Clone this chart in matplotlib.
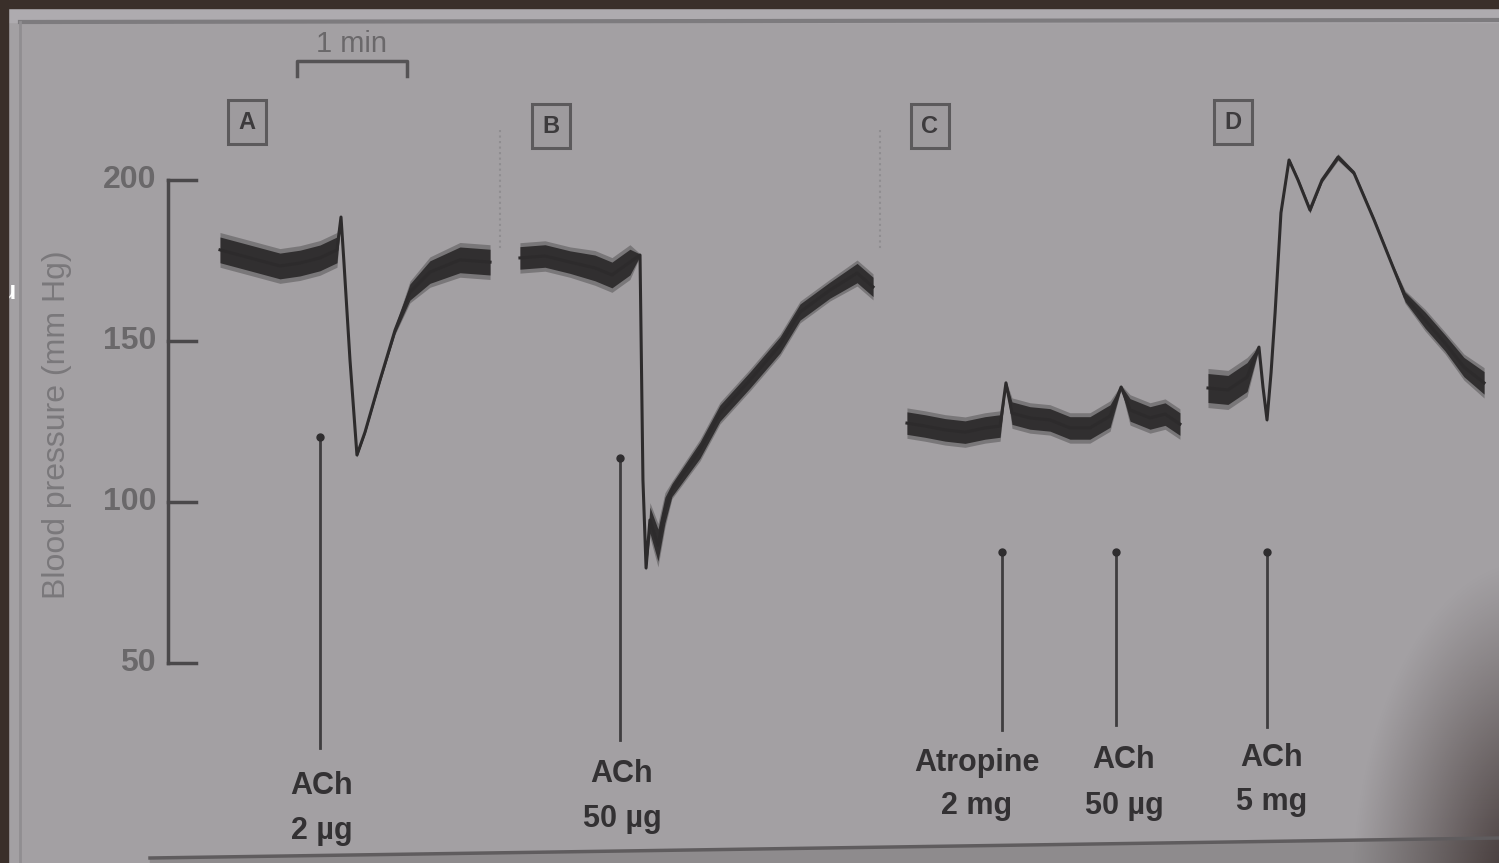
import matplotlib
matplotlib.use("Agg")
import matplotlib.pyplot as plt
import numpy as np
from matplotlib.patches import Rectangle

plt.rcParams["font.family"] = ["Liberation Sans", "DejaVu Sans"]

# --- Data: blood pressure traces (time in s, pressure in mmHg) ---
A_time = [120.0, 136.4, 152.7, 163.6, 174.5, 183.8, 186.0, 187.6, 190.9, 194.7,
          199.1, 207.3, 215.5, 223.6, 234.5, 250.9, 267.3]
A_bp = [178.3, 175.8, 173.3, 174.2, 175.8, 178.3, 188.5, 174.5, 144.1, 114.6,
        121.7, 137.9, 153.4, 165.2, 171.4, 175.2, 174.5]
A_noise = [4, 4, 4, 4, 4, 4, 0.3, 0.3, 0.4, 0.5, 0.5, 0.6, 1, 2.5, 3.5, 4, 4]

B_time = [283.6, 297.3, 310.9, 324.5, 333.8, 343.6, 349.1, 350.7, 352.4, 354.5,
          358.9, 362.7, 366.5, 381.8, 392.7, 409.1, 425.5, 436.4, 452.7, 467.5, 476.2]
B_bp = [175.8, 176.4, 174.5, 172.7, 170.5, 174.5, 176.7, 106.8, 79.5, 94.4,
        86.6, 97.5, 103.7, 116.1, 127.6, 137.9, 148.8, 159.0, 165.8, 171.1, 166.8]
B_noise = [3.5, 3.5, 3.5, 4, 4, 4, 0.3, 0.3, 0.5, 4, 5, 4, 2, 2.5, 2.5, 2.5, 2.5, 2.5, 2.5, 3, 3]

C_time = [494.7, 504.5, 515.5, 526.4, 537.3, 545.5, 548.7, 552.0, 561.8, 572.7,
          583.6, 594.5, 605.5, 611.5, 616.4, 627.3, 635.5, 643.6]
C_bp = [124.5, 123.6, 122.4, 121.7, 123.0, 123.6, 137.0, 127.6, 126.1, 125.5,
        123.0, 123.0, 126.7, 135.7, 128.6, 126.1, 127.3, 124.2]
C_noise = [3.5, 3.5, 3.5, 3.5, 3.5, 3.5, 0.5, 3.5, 3.5, 3.5, 3.5, 3.5, 3.5, 0.5, 3.5, 3.5, 3.5, 3.5]

D_time = [658.9, 669.8, 680.2, 686.7, 688.9, 691.1, 693.3, 695.5, 698.7, 703.1, 708.0,
          714.5, 721.1, 729.8, 738.5, 749.5, 759.8, 766.4, 777.3, 788.2, 798.5, 809.5]
D_bp = [135.4, 134.8, 138.8, 148.1, 135.7, 125.5, 140.1, 158.7, 189.8, 206.2, 200.0,
        190.7, 200.0, 207.1, 202.2, 187.6, 173.0, 163.7, 156.5, 149.4, 141.9, 137.0]
D_noise = [4.5, 4.5, 4.5, 0.5, 0.5, 0.5, 0.5, 0.4, 0.4, 0.6, 0.6, 0.8, 0.6, 0.8, 0.6,
           0.6, 0.6, 1.5, 2.5, 2.5, 3, 3.5]

# injections: time (s), label lines
inj_time = [174.5, 338.2, 546.5, 608.7, 691.1]
inj_drug = ["ACh", "ACh", "Atropine", "ACh", "ACh"]
inj_dose = ["2 µg", "50 µg", "2 mg", "50 µg", "5 mg"]

panel_letters = ["A", "B", "C", "D"]
bp_ticks = [50, 100, 150, 200]

# --- pixel helpers for layout (figure is 1499 x 863 px) ---
W, H = 1499, 863


def tx(px):
    return px * 60.0 / 110.0


def py(px):
    return 200 - (px - 180) / 3.22


BG = "#a3a0a3"
INK = "#2d2b2c"
GREY_TXT = "#6a686a"

fig = plt.figure(figsize=(W / 100, H / 100), dpi=100, facecolor=BG)
ax = fig.add_axes([0, 0, 1, 1])
ax.set_xlim(tx(0), tx(W))
ax.set_ylim(py(H), py(0))
ax.axis("off")
ax.set_facecolor(BG)

# page edges / photo artefacts
ax.add_patch(Rectangle((tx(8), py(22)), tx(W), py(8) - py(22), color="#aeabaf", zorder=0))
ax.plot([tx(20), tx(W)], [py(22), py(20)], color="#7d7b7e", lw=3, zorder=1)
ax.plot([tx(20), tx(20)], [py(22), py(H)], color="#908e91", lw=2, zorder=1)
ax.plot([tx(150), tx(W)], [py(858), py(838)], color="#5f5c5e", lw=2.5, zorder=1)
ax.fill_between([tx(150), tx(W)], [py(858), py(838)], py(H), color="#8e8b8d", zorder=0.5)

# soft shadow in the bottom-right corner
gx, gy = np.meshgrid(np.arange(W - 260, W), np.arange(560, H))
dist = np.sqrt(((gx - 1530) / 180.0) ** 2 + ((gy - 900) / 340.0) ** 2)
shade = np.zeros(gx.shape + (4,))
shade[..., :3] = np.array([0x38, 0x2c, 0x2b]) / 255.0
shade[..., 3] = np.clip(1 - dist, 0, 1) ** 1.1
ax.imshow(shade, extent=(tx(W - 260), tx(W), py(H), py(560)), aspect="auto",
          zorder=0.9, interpolation="bilinear")

fig.patches.append(Rectangle((0, 1 - 8 / H), 1, 8 / H, transform=fig.transFigure,
                             color="#3a2f2a", zorder=10))
fig.patches.append(Rectangle((0, 0), 8 / W, 1, transform=fig.transFigure,
                             color="#3a2f2a", zorder=10))
ax.text(tx(1), py(292), "u", color="white", fontsize=18, fontweight="bold",
        ha="left", va="center", zorder=11)

# faint dotted separators between panels
for xp in [500, 880]:
    ax.plot([tx(xp), tx(xp)], [py(130), py(250)], color="#8f8d90", lw=1.5, ls=":", zorder=1)

# --- y scale bar ---
ax.plot([tx(168), tx(168)], [bp_ticks[0], bp_ticks[-1]], color="#4a484a", lw=2.5)
for v in bp_ticks:
    ax.plot([tx(168), tx(196)], [v, v], color="#4a484a", lw=2.5)
    ax.text(tx(156), v, str(v), ha="right", va="center", fontsize=23,
            color=GREY_TXT, fontweight="bold")
ax.text(tx(57), py(425), "Blood pressure (mm Hg)", rotation=90, ha="center",
        va="center", fontsize=23, color="#7a787b")

# --- time scale bar (1 min) ---
ax.plot([tx(297), tx(297), tx(297) + 60, tx(297) + 60],
        [py(76), py(61), py(61), py(76)], color="#555355", lw=2.5)
ax.text(tx(297) + 30, py(44), "1 min", ha="center", va="center", fontsize=21,
        color=GREY_TXT)

# --- panel letters ---
for letter, (xp, yp) in zip(panel_letters, [(247, 122), (551, 126), (930, 126), (1233, 122)]):
    ax.text(tx(xp), py(yp), letter, ha="center", va="center", fontsize=17,
            fontweight="bold", color="#3d3b3d",
            bbox=dict(boxstyle="square,pad=0.45", fc="#9e9b9e", ec="#5c5a5c", lw=2.2))

# --- traces ---
for t, p, n in [(A_time, A_bp, A_noise), (B_time, B_bp, B_noise),
                (C_time, C_bp, C_noise), (D_time, D_bp, D_noise)]:
    lo = [a - b for a, b in zip(p, n)]
    hi = [a + b for a, b in zip(p, n)]
    lo2 = [a - 1.35 * b for a, b in zip(p, n)]
    hi2 = [a + 1.35 * b for a, b in zip(p, n)]
    ax.fill_between(t, lo2, hi2, color=INK, lw=0, alpha=0.35, zorder=3)
    ax.fill_between(t, lo, hi, color=INK, lw=0, alpha=0.95, zorder=3)
    ax.plot(t, p, color=INK, lw=2.2, zorder=3, solid_joinstyle="round")

# --- injection markers ---
arrow_top = [py(437), py(458), py(552), py(552), py(552)]
arrow_bot = [py(748), py(740), py(730), py(725), py(727)]
drug_y = [786, 774, 763, 760, 758]
dose_y = [831, 819, 806, 806, 802]
label_dx = [2, 2, -25, 8, 5]
for i, t in enumerate(inj_time):
    ax.plot([t, t], [arrow_bot[i], arrow_top[i]], color="#3f3d3f", lw=2, zorder=2)
    ax.plot([t], [arrow_top[i]], marker="o", ms=5, color="#2f2d2f", zorder=2)
    xl = t + tx(label_dx[i])
    ax.text(xl, py(drug_y[i]), inj_drug[i], ha="center", va="center", fontsize=22,
            fontweight="bold", color="#333133")
    ax.text(xl, py(dose_y[i]), inj_dose[i], ha="center", va="center", fontsize=22,
            fontweight="bold", color="#333133")

fig.savefig("out.png", dpi=100, facecolor=BG)
